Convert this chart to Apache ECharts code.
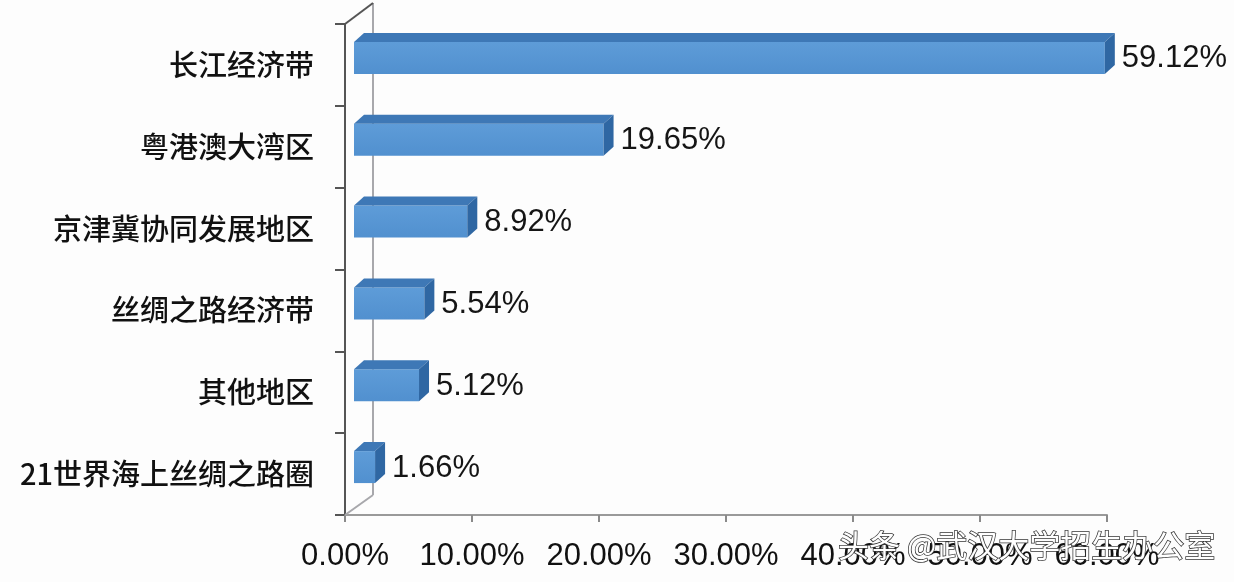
<!DOCTYPE html>
<html>
<head>
<meta charset="utf-8">
<script src="https://cdn.jsdelivr.net/npm/echarts@6/dist/echarts.min.js"></script>
<style>
html,body{margin:0;padding:0;background:#fdfdfd;}
#chart{width:1234px;height:582px;}
</style>
</head>
<body>
<div id="chart"></div>
<script>
const categories = ['长江经济带','粤港澳大湾区','京津冀协同发展地区','丝绸之路经济带','其他地区','21世界海上丝绸之路圈'];
const values = [59.12, 19.65, 8.92, 5.54, 5.12, 1.66];
const xTickMin = 0, xTickMax = 60, xTickStep = 10;
const watermark = '头条 @武汉大学招生办公室';

const chart = echarts.init(document.getElementById('chart'), null, {renderer: 'canvas'});

const DX = 10, DY = 9, SHIFT = 9, FRONT_TOP = 23, FRONT_H = 32;

function barItem(params, api) {
  const idx = api.value(0);
  const val = api.value(1);
  const c = api.coord([val, idx]);
  const c0 = api.coord([0, idx]);
  const x0 = c0[0] + SHIFT, x1 = c[0] + SHIFT;
  const yT = c[1] - FRONT_TOP, yB = yT + FRONT_H;
  return {
    type: 'group',
    children: [
      { type: 'rect', shape: {x: x0, y: yT, width: x1 - x0, height: FRONT_H},
        style: {fill: new echarts.graphic.LinearGradient(0,0,0,1,[{offset:0,color:'#5e9cd8'},{offset:1,color:'#5190cf'}])} },
      { type: 'polygon', shape: {points: [[x0, yT],[x0+DX, yT-DY],[x1+DX, yT-DY],[x1, yT]]},
        style: {fill: '#3e78b6'} },
      { type: 'polygon', shape: {points: [[x1, yT],[x1+DX, yT-DY],[x1+DX, yB-DY],[x1, yB]]},
        style: {fill: '#2f67a3'} },
      { type: 'text', x: x1 + DX + 7, y: yT + FRONT_H/2 + 1,
        style: {text: val.toFixed(2) + '%', fill: '#151515', font: '31px "Liberation Sans", Arial, sans-serif',
                verticalAlign: 'middle', align: 'left'} }
    ]
  };
}

function wallItem(params, api) {
  const cs = params.coordSys;
  const x = cs.x, y = cs.y, h = cs.height;
  return {
    type: 'group',
    children: [
      { type: 'line', shape: {x1: x+28, y1: y-21, x2: x+28, y2: y+h-20}, style: {stroke: '#a8a8ac', lineWidth: 2} },
      { type: 'line', shape: {x1: x, y1: y, x2: x+28, y2: y-21}, style: {stroke: '#555', lineWidth: 2} },
      { type: 'line', shape: {x1: x, y1: y+h, x2: x+28, y2: y+h-20}, style: {stroke: '#a8a8ac', lineWidth: 2} }
    ]
  };
}

const option = {
  backgroundColor: '#fdfdfd',
  animation: false,
  grid: {left: 345, right: 127, top: 24, bottom: 67, containLabel: false},
  xAxis: {
    type: 'value', min: xTickMin, max: xTickMax, interval: xTickStep,
    axisLine: {show: true, lineStyle: {color: '#9a9a9a', width: 2}},
    axisTick: {show: true, length: 7, lineStyle: {color: '#8a8a8a', width: 2}},
    splitLine: {show: false},
    axisLabel: {formatter: v => v.toFixed(2) + '%', fontSize: 31, color: '#111',
                fontFamily: '"Liberation Sans", Arial, sans-serif', margin: 26, lineHeight: 31}
  },
  yAxis: {
    type: 'category', inverse: true, data: categories,
    axisLine: {show: true, lineStyle: {color: '#555', width: 2}},
    axisTick: {show: true, length: 10, alignWithLabel: false, lineStyle: {color: '#555', width: 2}},
    splitLine: {show: false},
    axisLabel: {
      color: '#111', margin: 31, fontSize: 29, fontWeight: 500,
      fontFamily: '"Noto Sans CJK SC", sans-serif'
    }
  },
  series: [
    { type: 'custom', renderItem: wallItem, data: [[0, 0]], z: 1, silent: true, clip: false,
      encode: {x: 1, y: 0} },
    { type: 'custom', renderItem: barItem, z: 3, clip: false,
      data: values.map((v, i) => [i, v]), encode: {x: 1, y: 0} }
  ],
  graphic: [
    { type: 'text', right: 18, top: 529, z: 100,
      style: {text: watermark, fill: '#ffffff', stroke: '#333', lineWidth: 1.5,
              font: '31px "Noto Sans CJK SC", sans-serif'} }
  ]
};
chart.setOption(option);
</script>
</body>
</html>
